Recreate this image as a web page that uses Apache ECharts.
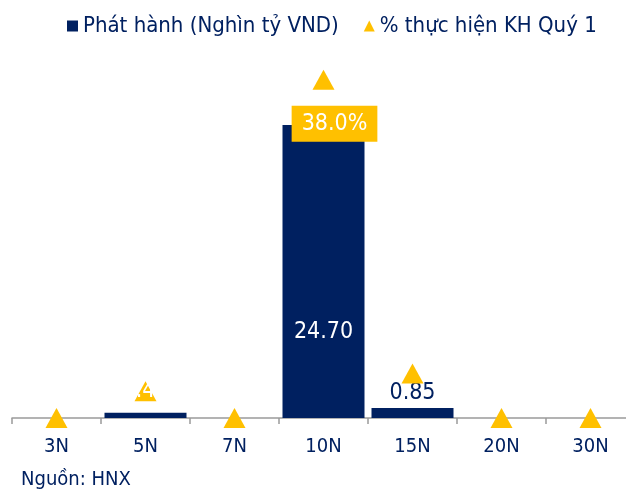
<!DOCTYPE html>
<html>
<head>
<meta charset="utf-8">
<script src="https://cdn.jsdelivr.net/npm/echarts@6/dist/echarts.min.js"></script>
<style>
  html, body { margin: 0; padding: 0; background: #ffffff; }
  #chart { width: 626px; height: 491px; }
</style>
</head>
<body>
<div id="chart"></div>
<script>
// kỳ hạn trái phiếu
const tenors = ['3N', '5N', '7N', '10N', '15N', '20N', '30N'];
// phát hành (nghìn tỷ VND)
const issued = [0, 0.45, 0, 24.70, 0.85, 0, 0];
// % thực hiện kế hoạch quý 1
const planPct = [0, 3.0, 0, 38.0, 5.0, 0, 0];

const navy = '#002060';
const gold = '#FFC000';
const font = '"DejaVu Sans Condensed", "DejaVu Sans", sans-serif';

const chart = echarts.init(document.getElementById('chart'));

const option = {
    animation: false,
    textStyle: { fontFamily: font },
    legend: {
        top: 10,
        left: 62,
        itemGap: 25,
        itemWidth: 11,
        itemHeight: 11,
        textStyle: { color: navy, fontSize: 22, fontFamily: font },
        data: [
            { name: 'Phát hành (Nghìn tỷ VND)', icon: 'rect' },
            { name: '% thực hiện KH Quý 1', icon: 'triangle' }
        ]
    },
    grid: { left: 12, right: -9, top: 62, bottom: 73, outerBoundsMode: 'none', containLabel: false },
    xAxis: {
        type: 'category',
        data: tenors,
        axisLine: { lineStyle: { color: '#9a9a9a', width: 1.5 } },
        axisTick: { show: true, length: 6, lineStyle: { color: '#9a9a9a', width: 1.5 } },
        axisLabel: { color: navy, fontSize: 20, margin: 19, fontFamily: font }
    },
    yAxis: [
        { type: 'value', min: 0, max: 30, show: false },
        { type: 'value', min: 0, max: 40, show: false }
    ],
    series: [
        {
            name: 'Phát hành (Nghìn tỷ VND)',
            type: 'bar',
            z: 2,
            data: issued.map((v, i) => {
                const item = { value: v };
                if (i === 3) {
                    item.label = { show: true, position: 'insideBottom', distance: 74, color: '#ffffff' };
                } else if (i === 4) {
                    item.label = { show: true, position: 'top', distance: 3, color: navy };
                }
                return item;
            }),
            barWidth: 82,
            itemStyle: { color: navy },
            label: { show: false, fontSize: 23, fontFamily: font, formatter: p => p.value.toFixed(2) }
        },
        {
            name: '% thực hiện KH Quý 1',
            type: 'scatter',
            yAxisIndex: 1,
            z: 5,
            symbol: 'triangle',
            symbolSize: [22, 20],
            itemStyle: { color: gold, opacity: 1 },
            emphasis: { disabled: true },
            data: planPct.map((v, i) => {
                const item = { value: v };
                if (i === 3) {
                    item.label = {
                        show: true, position: 'bottom', distance: 16, offset: [11, 0],
                        color: '#ffffff', backgroundColor: gold, padding: [7, 10, 6, 10],
                        fontSize: 23, fontFamily: font,
                        formatter: p => p.value.toFixed(1) + '%'
                    };
                } else if (i === 1) {
                    // nhãn trắng của cột 5N, chỉ thấy khi nằm trên tam giác
                    item.label = {
                        show: true, position: 'inside', color: '#ffffff',
                        fontSize: 23, fontFamily: font,
                        formatter: () => issued[1].toFixed(2)
                    };
                }
                return item;
            })
        }
    ],
    graphic: [
        {
            type: 'text', left: 21, top: 470,
            style: { text: 'Nguồn: HNX', fill: navy, fontSize: 20, fontFamily: font }
        }
    ]
};

chart.setOption(option);
</script>
</body>
</html>
